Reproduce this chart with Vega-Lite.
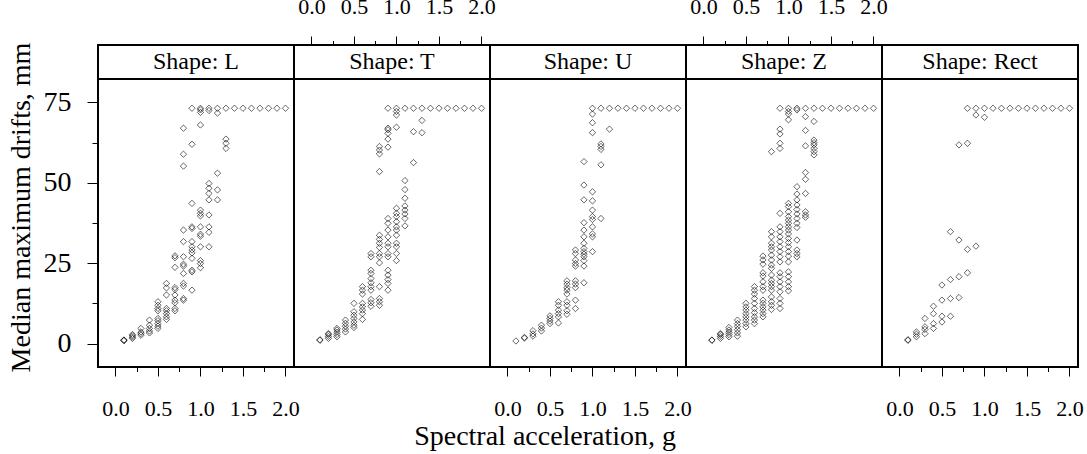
{
  "$schema": "https://vega.github.io/schema/vega-lite/v6.json",
  "padding": {"left": 5, "top": -6, "right": 2, "bottom": 2},
  "background": "white",
  "config": {
    "font": "Liberation Serif",
    "view": {"stroke": "black", "strokeWidth": 2},
    "axis": {"labelFont": "Liberation Serif", "labelColor": "black", "tickColor": "black", "tickWidth": 1, "domain": false, "grid": false, "titleFont": "Liberation Serif", "titleFontWeight": "normal", "titleColor": "black"},
    "title": {"font": "Liberation Serif", "fontWeight": "normal", "color": "black"}
  },
  "title": {"text": "Spectral acceleration, g", "orient": "bottom", "anchor": "middle", "fontSize": 28, "offset": 3},
  "datasets": {
    "drifts": [
      {"shape":"L","sa":0.1,"drift":1.0},{"shape":"L","sa":0.1,"drift":1.1},{"shape":"L","sa":0.1,"drift":0.9},
      {"shape":"L","sa":0.2,"drift":1.6},{"shape":"L","sa":0.2,"drift":2.0},{"shape":"L","sa":0.2,"drift":2.4},{"shape":"L","sa":0.2,"drift":2.8},
      {"shape":"L","sa":0.3,"drift":2.6},{"shape":"L","sa":0.3,"drift":3.1},{"shape":"L","sa":0.3,"drift":3.6},{"shape":"L","sa":0.3,"drift":4.7},
      {"shape":"L","sa":0.4,"drift":3.3},{"shape":"L","sa":0.4,"drift":3.9},{"shape":"L","sa":0.4,"drift":4.7},{"shape":"L","sa":0.4,"drift":5.7},{"shape":"L","sa":0.4,"drift":7.3},
      {"shape":"L","sa":0.5,"drift":4.7},{"shape":"L","sa":0.5,"drift":5.4},{"shape":"L","sa":0.5,"drift":6.2},{"shape":"L","sa":0.5,"drift":7.1},{"shape":"L","sa":0.5,"drift":7.8},{"shape":"L","sa":0.5,"drift":10.2},{"shape":"L","sa":0.5,"drift":10.9},{"shape":"L","sa":0.5,"drift":11.9},{"shape":"L","sa":0.5,"drift":13.0},
      {"shape":"L","sa":0.6,"drift":7.5},{"shape":"L","sa":0.6,"drift":8.3},{"shape":"L","sa":0.6,"drift":9.3},{"shape":"L","sa":0.6,"drift":10.2},{"shape":"L","sa":0.6,"drift":10.9},{"shape":"L","sa":0.6,"drift":15.1},{"shape":"L","sa":0.6,"drift":17.3},{"shape":"L","sa":0.6,"drift":18.7},
      {"shape":"L","sa":0.7,"drift":10.2},{"shape":"L","sa":0.7,"drift":10.9},{"shape":"L","sa":0.7,"drift":12.7},{"shape":"L","sa":0.7,"drift":13.5},{"shape":"L","sa":0.7,"drift":15.1},{"shape":"L","sa":0.7,"drift":16.8},{"shape":"L","sa":0.7,"drift":17.4},{"shape":"L","sa":0.7,"drift":23.7},{"shape":"L","sa":0.7,"drift":26.7},{"shape":"L","sa":0.7,"drift":27.3},
      {"shape":"L","sa":0.8,"drift":13.5},{"shape":"L","sa":0.8,"drift":14.0},{"shape":"L","sa":0.8,"drift":17.9},{"shape":"L","sa":0.8,"drift":18.7},{"shape":"L","sa":0.8,"drift":21.8},{"shape":"L","sa":0.8,"drift":24.1},{"shape":"L","sa":0.8,"drift":24.7},{"shape":"L","sa":0.8,"drift":27.0},{"shape":"L","sa":0.8,"drift":31.7},{"shape":"L","sa":0.8,"drift":35.3},{"shape":"L","sa":0.8,"drift":55.2},{"shape":"L","sa":0.8,"drift":58.9},{"shape":"L","sa":0.8,"drift":67.0},
      {"shape":"L","sa":0.9,"drift":16.6},{"shape":"L","sa":0.9,"drift":22.3},{"shape":"L","sa":0.9,"drift":22.8},{"shape":"L","sa":0.9,"drift":26.5},{"shape":"L","sa":0.9,"drift":28.2},{"shape":"L","sa":0.9,"drift":29.1},{"shape":"L","sa":0.9,"drift":30.1},{"shape":"L","sa":0.9,"drift":31.7},{"shape":"L","sa":0.9,"drift":35.8},{"shape":"L","sa":0.9,"drift":36.3},{"shape":"L","sa":0.9,"drift":43.6},{"shape":"L","sa":0.9,"drift":62.0},{"shape":"L","sa":0.9,"drift":73.2},
      {"shape":"L","sa":1.0,"drift":23.6},{"shape":"L","sa":1.0,"drift":24.9},{"shape":"L","sa":1.0,"drift":25.8},{"shape":"L","sa":1.0,"drift":30.1},{"shape":"L","sa":1.0,"drift":33.4},{"shape":"L","sa":1.0,"drift":34.0},{"shape":"L","sa":1.0,"drift":36.3},{"shape":"L","sa":1.0,"drift":39.7},{"shape":"L","sa":1.0,"drift":40.5},{"shape":"L","sa":1.0,"drift":41.5},{"shape":"L","sa":1.0,"drift":68.0},{"shape":"L","sa":1.0,"drift":71.9},{"shape":"L","sa":1.0,"drift":72.7},{"shape":"L","sa":1.0,"drift":73.2},
      {"shape":"L","sa":1.1,"drift":30.1},{"shape":"L","sa":1.1,"drift":34.6},{"shape":"L","sa":1.1,"drift":36.3},{"shape":"L","sa":1.1,"drift":40.0},{"shape":"L","sa":1.1,"drift":44.7},{"shape":"L","sa":1.1,"drift":46.7},{"shape":"L","sa":1.1,"drift":48.3},{"shape":"L","sa":1.1,"drift":49.8},{"shape":"L","sa":1.1,"drift":72.5},{"shape":"L","sa":1.1,"drift":73.2},
      {"shape":"L","sa":1.2,"drift":44.7},{"shape":"L","sa":1.2,"drift":47.8},{"shape":"L","sa":1.2,"drift":53.0},{"shape":"L","sa":1.2,"drift":71.7},{"shape":"L","sa":1.2,"drift":73.2},
      {"shape":"L","sa":1.3,"drift":60.7},{"shape":"L","sa":1.3,"drift":62.3},{"shape":"L","sa":1.3,"drift":63.6},{"shape":"L","sa":1.3,"drift":73.2},
      {"shape":"L","sa":1.4,"drift":73.2},{"shape":"L","sa":1.5,"drift":73.2},{"shape":"L","sa":1.6,"drift":73.2},{"shape":"L","sa":1.7,"drift":73.2},{"shape":"L","sa":1.8,"drift":73.2},{"shape":"L","sa":1.9,"drift":73.2},{"shape":"L","sa":2.0,"drift":73.2},

      {"shape":"T","sa":0.1,"drift":1.0},{"shape":"T","sa":0.1,"drift":1.2},
      {"shape":"T","sa":0.2,"drift":1.6},{"shape":"T","sa":0.2,"drift":2.2},{"shape":"T","sa":0.2,"drift":2.8},{"shape":"T","sa":0.2,"drift":3.1},
      {"shape":"T","sa":0.3,"drift":2.1},{"shape":"T","sa":0.3,"drift":2.8},{"shape":"T","sa":0.3,"drift":3.5},{"shape":"T","sa":0.3,"drift":4.2},{"shape":"T","sa":0.3,"drift":4.7},
      {"shape":"T","sa":0.4,"drift":3.6},{"shape":"T","sa":0.4,"drift":4.5},{"shape":"T","sa":0.4,"drift":5.4},{"shape":"T","sa":0.4,"drift":6.3},{"shape":"T","sa":0.4,"drift":7.3},
      {"shape":"T","sa":0.5,"drift":5.0},{"shape":"T","sa":0.5,"drift":5.7},{"shape":"T","sa":0.5,"drift":6.7},{"shape":"T","sa":0.5,"drift":7.8},{"shape":"T","sa":0.5,"drift":8.8},{"shape":"T","sa":0.5,"drift":9.9},{"shape":"T","sa":0.5,"drift":12.5},
      {"shape":"T","sa":0.6,"drift":7.5},{"shape":"T","sa":0.6,"drift":9.3},{"shape":"T","sa":0.6,"drift":10.4},{"shape":"T","sa":0.6,"drift":11.4},{"shape":"T","sa":0.6,"drift":12.5},{"shape":"T","sa":0.6,"drift":15.4},{"shape":"T","sa":0.6,"drift":16.6},{"shape":"T","sa":0.6,"drift":17.7},
      {"shape":"T","sa":0.7,"drift":11.6},{"shape":"T","sa":0.7,"drift":12.7},{"shape":"T","sa":0.7,"drift":13.7},{"shape":"T","sa":0.7,"drift":16.6},{"shape":"T","sa":0.7,"drift":17.7},{"shape":"T","sa":0.7,"drift":18.9},{"shape":"T","sa":0.7,"drift":20.2},{"shape":"T","sa":0.7,"drift":21.8},{"shape":"T","sa":0.7,"drift":22.8},{"shape":"T","sa":0.7,"drift":27.0},{"shape":"T","sa":0.7,"drift":28.0},
      {"shape":"T","sa":0.8,"drift":11.9},{"shape":"T","sa":0.8,"drift":13.0},{"shape":"T","sa":0.8,"drift":14.0},{"shape":"T","sa":0.8,"drift":17.7},{"shape":"T","sa":0.8,"drift":25.1},{"shape":"T","sa":0.8,"drift":27.0},{"shape":"T","sa":0.8,"drift":28.0},{"shape":"T","sa":0.8,"drift":29.9},{"shape":"T","sa":0.8,"drift":31.2},{"shape":"T","sa":0.8,"drift":32.4},{"shape":"T","sa":0.8,"drift":33.7},{"shape":"T","sa":0.8,"drift":53.5},{"shape":"T","sa":0.8,"drift":59.0},{"shape":"T","sa":0.8,"drift":60.2},{"shape":"T","sa":0.8,"drift":61.3},
      {"shape":"T","sa":0.9,"drift":16.6},{"shape":"T","sa":0.9,"drift":18.7},{"shape":"T","sa":0.9,"drift":19.9},{"shape":"T","sa":0.9,"drift":21.3},{"shape":"T","sa":0.9,"drift":22.8},{"shape":"T","sa":0.9,"drift":27.0},{"shape":"T","sa":0.9,"drift":28.0},{"shape":"T","sa":0.9,"drift":30.1},{"shape":"T","sa":0.9,"drift":31.2},{"shape":"T","sa":0.9,"drift":33.2},{"shape":"T","sa":0.9,"drift":35.3},{"shape":"T","sa":0.9,"drift":37.4},{"shape":"T","sa":0.9,"drift":38.9},{"shape":"T","sa":0.9,"drift":61.1},{"shape":"T","sa":0.9,"drift":63.6},{"shape":"T","sa":0.9,"drift":65.4},{"shape":"T","sa":0.9,"drift":66.5},{"shape":"T","sa":0.9,"drift":67.0},{"shape":"T","sa":0.9,"drift":73.2},
      {"shape":"T","sa":1.0,"drift":25.8},{"shape":"T","sa":1.0,"drift":28.0},{"shape":"T","sa":1.0,"drift":30.1},{"shape":"T","sa":1.0,"drift":31.2},{"shape":"T","sa":1.0,"drift":33.7},{"shape":"T","sa":1.0,"drift":35.3},{"shape":"T","sa":1.0,"drift":36.3},{"shape":"T","sa":1.0,"drift":37.9},{"shape":"T","sa":1.0,"drift":39.5},{"shape":"T","sa":1.0,"drift":40.5},{"shape":"T","sa":1.0,"drift":42.1},{"shape":"T","sa":1.0,"drift":67.3},{"shape":"T","sa":1.0,"drift":71.1},{"shape":"T","sa":1.0,"drift":72.2},{"shape":"T","sa":1.0,"drift":73.2},
      {"shape":"T","sa":1.1,"drift":36.6},{"shape":"T","sa":1.1,"drift":38.9},{"shape":"T","sa":1.1,"drift":40.3},{"shape":"T","sa":1.1,"drift":41.5},{"shape":"T","sa":1.1,"drift":42.8},{"shape":"T","sa":1.1,"drift":45.2},{"shape":"T","sa":1.1,"drift":47.9},{"shape":"T","sa":1.1,"drift":50.7},{"shape":"T","sa":1.1,"drift":73.2},
      {"shape":"T","sa":1.2,"drift":56.3},{"shape":"T","sa":1.2,"drift":65.9},{"shape":"T","sa":1.2,"drift":73.2},
      {"shape":"T","sa":1.3,"drift":65.6},{"shape":"T","sa":1.3,"drift":69.4},{"shape":"T","sa":1.3,"drift":73.2},
      {"shape":"T","sa":1.4,"drift":73.2},{"shape":"T","sa":1.5,"drift":73.2},{"shape":"T","sa":1.6,"drift":73.2},{"shape":"T","sa":1.7,"drift":73.2},{"shape":"T","sa":1.8,"drift":73.2},{"shape":"T","sa":1.9,"drift":73.2},{"shape":"T","sa":2.0,"drift":73.2},

      {"shape":"U","sa":0.1,"drift":0.8},
      {"shape":"U","sa":0.2,"drift":1.7},{"shape":"U","sa":0.2,"drift":1.9},
      {"shape":"U","sa":0.3,"drift":2.3},{"shape":"U","sa":0.3,"drift":3.0},{"shape":"U","sa":0.3,"drift":4.0},
      {"shape":"U","sa":0.4,"drift":3.9},{"shape":"U","sa":0.4,"drift":4.8},{"shape":"U","sa":0.4,"drift":5.7},
      {"shape":"U","sa":0.5,"drift":6.2},{"shape":"U","sa":0.5,"drift":7.0},{"shape":"U","sa":0.5,"drift":7.8},{"shape":"U","sa":0.5,"drift":8.6},
      {"shape":"U","sa":0.6,"drift":6.4},{"shape":"U","sa":0.6,"drift":8.3},{"shape":"U","sa":0.6,"drift":9.3},{"shape":"U","sa":0.6,"drift":10.4},{"shape":"U","sa":0.6,"drift":11.9},{"shape":"U","sa":0.6,"drift":13.0},
      {"shape":"U","sa":0.7,"drift":9.1},{"shape":"U","sa":0.7,"drift":10.2},{"shape":"U","sa":0.7,"drift":11.9},{"shape":"U","sa":0.7,"drift":13.0},{"shape":"U","sa":0.7,"drift":15.4},{"shape":"U","sa":0.7,"drift":16.6},{"shape":"U","sa":0.7,"drift":17.4},{"shape":"U","sa":0.7,"drift":18.5},{"shape":"U","sa":0.7,"drift":19.5},
      {"shape":"U","sa":0.8,"drift":10.9},{"shape":"U","sa":0.8,"drift":13.5},{"shape":"U","sa":0.8,"drift":17.4},{"shape":"U","sa":0.8,"drift":18.5},{"shape":"U","sa":0.8,"drift":19.5},{"shape":"U","sa":0.8,"drift":24.1},{"shape":"U","sa":0.8,"drift":24.9},{"shape":"U","sa":0.8,"drift":26.0},{"shape":"U","sa":0.8,"drift":28.0},{"shape":"U","sa":0.8,"drift":29.1},
      {"shape":"U","sa":0.9,"drift":18.9},{"shape":"U","sa":0.9,"drift":24.1},{"shape":"U","sa":0.9,"drift":25.8},{"shape":"U","sa":0.9,"drift":27.0},{"shape":"U","sa":0.9,"drift":27.8},{"shape":"U","sa":0.9,"drift":28.6},{"shape":"U","sa":0.9,"drift":29.6},{"shape":"U","sa":0.9,"drift":31.2},{"shape":"U","sa":0.9,"drift":33.2},{"shape":"U","sa":0.9,"drift":35.3},{"shape":"U","sa":0.9,"drift":37.6},{"shape":"U","sa":0.9,"drift":44.7},{"shape":"U","sa":0.9,"drift":49.3},{"shape":"U","sa":0.9,"drift":56.6},
      {"shape":"U","sa":1.0,"drift":28.6},{"shape":"U","sa":1.0,"drift":33.2},{"shape":"U","sa":1.0,"drift":34.1},{"shape":"U","sa":1.0,"drift":36.3},{"shape":"U","sa":1.0,"drift":38.6},{"shape":"U","sa":1.0,"drift":39.5},{"shape":"U","sa":1.0,"drift":41.5},{"shape":"U","sa":1.0,"drift":44.4},{"shape":"U","sa":1.0,"drift":47.2},{"shape":"U","sa":1.0,"drift":65.6},{"shape":"U","sa":1.0,"drift":68.7},{"shape":"U","sa":1.0,"drift":71.4},{"shape":"U","sa":1.0,"drift":73.2},
      {"shape":"U","sa":1.1,"drift":38.9},{"shape":"U","sa":1.1,"drift":55.6},{"shape":"U","sa":1.1,"drift":60.4},{"shape":"U","sa":1.1,"drift":61.3},{"shape":"U","sa":1.1,"drift":62.1},{"shape":"U","sa":1.1,"drift":73.2},
      {"shape":"U","sa":1.2,"drift":66.7},{"shape":"U","sa":1.2,"drift":73.2},
      {"shape":"U","sa":1.3,"drift":73.2},{"shape":"U","sa":1.4,"drift":73.2},{"shape":"U","sa":1.5,"drift":73.2},{"shape":"U","sa":1.6,"drift":73.2},{"shape":"U","sa":1.7,"drift":73.2},{"shape":"U","sa":1.8,"drift":73.2},{"shape":"U","sa":1.9,"drift":73.2},{"shape":"U","sa":2.0,"drift":73.2},

      {"shape":"Z","sa":0.1,"drift":1.0},{"shape":"Z","sa":0.1,"drift":1.1},
      {"shape":"Z","sa":0.2,"drift":1.6},{"shape":"Z","sa":0.2,"drift":2.2},{"shape":"Z","sa":0.2,"drift":2.8},{"shape":"Z","sa":0.2,"drift":3.1},
      {"shape":"Z","sa":0.3,"drift":2.1},{"shape":"Z","sa":0.3,"drift":2.8},{"shape":"Z","sa":0.3,"drift":3.5},{"shape":"Z","sa":0.3,"drift":4.2},{"shape":"Z","sa":0.3,"drift":5.0},
      {"shape":"Z","sa":0.4,"drift":2.3},{"shape":"Z","sa":0.4,"drift":3.3},{"shape":"Z","sa":0.4,"drift":4.3},{"shape":"Z","sa":0.4,"drift":5.3},{"shape":"Z","sa":0.4,"drift":6.2},{"shape":"Z","sa":0.4,"drift":7.3},
      {"shape":"Z","sa":0.5,"drift":5.2},{"shape":"Z","sa":0.5,"drift":6.2},{"shape":"Z","sa":0.5,"drift":7.3},{"shape":"Z","sa":0.5,"drift":8.3},{"shape":"Z","sa":0.5,"drift":9.3},{"shape":"Z","sa":0.5,"drift":10.4},{"shape":"Z","sa":0.5,"drift":11.4},{"shape":"Z","sa":0.5,"drift":12.5},
      {"shape":"Z","sa":0.6,"drift":6.2},{"shape":"Z","sa":0.6,"drift":7.3},{"shape":"Z","sa":0.6,"drift":8.3},{"shape":"Z","sa":0.6,"drift":9.6},{"shape":"Z","sa":0.6,"drift":10.9},{"shape":"Z","sa":0.6,"drift":12.5},{"shape":"Z","sa":0.6,"drift":14.0},{"shape":"Z","sa":0.6,"drift":15.4},{"shape":"Z","sa":0.6,"drift":16.6},{"shape":"Z","sa":0.6,"drift":17.7},
      {"shape":"Z","sa":0.7,"drift":8.3},{"shape":"Z","sa":0.7,"drift":9.3},{"shape":"Z","sa":0.7,"drift":10.4},{"shape":"Z","sa":0.7,"drift":11.4},{"shape":"Z","sa":0.7,"drift":12.5},{"shape":"Z","sa":0.7,"drift":13.5},{"shape":"Z","sa":0.7,"drift":16.6},{"shape":"Z","sa":0.7,"drift":17.7},{"shape":"Z","sa":0.7,"drift":19.2},{"shape":"Z","sa":0.7,"drift":21.0},{"shape":"Z","sa":0.7,"drift":22.0},{"shape":"Z","sa":0.7,"drift":24.7},{"shape":"Z","sa":0.7,"drift":26.0},{"shape":"Z","sa":0.7,"drift":27.2},
      {"shape":"Z","sa":0.8,"drift":10.6},{"shape":"Z","sa":0.8,"drift":11.9},{"shape":"Z","sa":0.8,"drift":13.0},{"shape":"Z","sa":0.8,"drift":14.5},{"shape":"Z","sa":0.8,"drift":16.6},{"shape":"Z","sa":0.8,"drift":17.7},{"shape":"Z","sa":0.8,"drift":18.7},{"shape":"Z","sa":0.8,"drift":19.7},{"shape":"Z","sa":0.8,"drift":21.3},{"shape":"Z","sa":0.8,"drift":23.4},{"shape":"Z","sa":0.8,"drift":24.4},{"shape":"Z","sa":0.8,"drift":26.0},{"shape":"Z","sa":0.8,"drift":27.5},{"shape":"Z","sa":0.8,"drift":29.1},{"shape":"Z","sa":0.8,"drift":30.1},{"shape":"Z","sa":0.8,"drift":31.2},{"shape":"Z","sa":0.8,"drift":33.2},{"shape":"Z","sa":0.8,"drift":34.8},{"shape":"Z","sa":0.8,"drift":59.7},
      {"shape":"Z","sa":0.9,"drift":10.9},{"shape":"Z","sa":0.9,"drift":12.5},{"shape":"Z","sa":0.9,"drift":14.0},{"shape":"Z","sa":0.9,"drift":16.1},{"shape":"Z","sa":0.9,"drift":17.7},{"shape":"Z","sa":0.9,"drift":19.2},{"shape":"Z","sa":0.9,"drift":20.8},{"shape":"Z","sa":0.9,"drift":22.0},{"shape":"Z","sa":0.9,"drift":25.4},{"shape":"Z","sa":0.9,"drift":27.0},{"shape":"Z","sa":0.9,"drift":28.6},{"shape":"Z","sa":0.9,"drift":30.1},{"shape":"Z","sa":0.9,"drift":31.7},{"shape":"Z","sa":0.9,"drift":33.2},{"shape":"Z","sa":0.9,"drift":34.8},{"shape":"Z","sa":0.9,"drift":36.3},{"shape":"Z","sa":0.9,"drift":40.5},{"shape":"Z","sa":0.9,"drift":60.7},{"shape":"Z","sa":0.9,"drift":62.3},{"shape":"Z","sa":0.9,"drift":65.2},{"shape":"Z","sa":0.9,"drift":66.7},{"shape":"Z","sa":0.9,"drift":73.2},
      {"shape":"Z","sa":1.0,"drift":16.4},{"shape":"Z","sa":1.0,"drift":17.7},{"shape":"Z","sa":1.0,"drift":19.2},{"shape":"Z","sa":1.0,"drift":20.8},{"shape":"Z","sa":1.0,"drift":22.3},{"shape":"Z","sa":1.0,"drift":25.4},{"shape":"Z","sa":1.0,"drift":27.2},{"shape":"Z","sa":1.0,"drift":28.6},{"shape":"Z","sa":1.0,"drift":30.1},{"shape":"Z","sa":1.0,"drift":31.4},{"shape":"Z","sa":1.0,"drift":32.7},{"shape":"Z","sa":1.0,"drift":34.1},{"shape":"Z","sa":1.0,"drift":35.3},{"shape":"Z","sa":1.0,"drift":36.3},{"shape":"Z","sa":1.0,"drift":37.4},{"shape":"Z","sa":1.0,"drift":38.4},{"shape":"Z","sa":1.0,"drift":39.5},{"shape":"Z","sa":1.0,"drift":41.0},{"shape":"Z","sa":1.0,"drift":42.6},{"shape":"Z","sa":1.0,"drift":43.6},{"shape":"Z","sa":1.0,"drift":69.6},{"shape":"Z","sa":1.0,"drift":71.4},{"shape":"Z","sa":1.0,"drift":72.2},{"shape":"Z","sa":1.0,"drift":73.2},
      {"shape":"Z","sa":1.1,"drift":27.0},{"shape":"Z","sa":1.1,"drift":28.0},{"shape":"Z","sa":1.1,"drift":29.1},{"shape":"Z","sa":1.1,"drift":32.2},{"shape":"Z","sa":1.1,"drift":36.1},{"shape":"Z","sa":1.1,"drift":37.4},{"shape":"Z","sa":1.1,"drift":38.9},{"shape":"Z","sa":1.1,"drift":40.3},{"shape":"Z","sa":1.1,"drift":41.7},{"shape":"Z","sa":1.1,"drift":43.1},{"shape":"Z","sa":1.1,"drift":44.7},{"shape":"Z","sa":1.1,"drift":46.5},{"shape":"Z","sa":1.1,"drift":48.8},{"shape":"Z","sa":1.1,"drift":72.7},{"shape":"Z","sa":1.1,"drift":73.2},
      {"shape":"Z","sa":1.2,"drift":39.3},{"shape":"Z","sa":1.2,"drift":40.0},{"shape":"Z","sa":1.2,"drift":41.0},{"shape":"Z","sa":1.2,"drift":46.7},{"shape":"Z","sa":1.2,"drift":51.1},{"shape":"Z","sa":1.2,"drift":53.2},{"shape":"Z","sa":1.2,"drift":61.5},{"shape":"Z","sa":1.2,"drift":66.3},{"shape":"Z","sa":1.2,"drift":70.6},{"shape":"Z","sa":1.2,"drift":73.2},
      {"shape":"Z","sa":1.3,"drift":58.7},{"shape":"Z","sa":1.3,"drift":59.7},{"shape":"Z","sa":1.3,"drift":60.7},{"shape":"Z","sa":1.3,"drift":61.8},{"shape":"Z","sa":1.3,"drift":62.5},{"shape":"Z","sa":1.3,"drift":63.3},{"shape":"Z","sa":1.3,"drift":69.1},{"shape":"Z","sa":1.3,"drift":73.2},
      {"shape":"Z","sa":1.4,"drift":73.2},{"shape":"Z","sa":1.5,"drift":73.2},{"shape":"Z","sa":1.6,"drift":73.2},{"shape":"Z","sa":1.7,"drift":73.2},{"shape":"Z","sa":1.8,"drift":73.2},{"shape":"Z","sa":1.9,"drift":73.2},{"shape":"Z","sa":2.0,"drift":73.2},

      {"shape":"Rect","sa":0.1,"drift":1.0},{"shape":"Rect","sa":0.1,"drift":1.2},
      {"shape":"Rect","sa":0.2,"drift":2.1},{"shape":"Rect","sa":0.2,"drift":2.9},{"shape":"Rect","sa":0.2,"drift":3.6},
      {"shape":"Rect","sa":0.3,"drift":3.1},{"shape":"Rect","sa":0.3,"drift":4.4},{"shape":"Rect","sa":0.3,"drift":5.2},{"shape":"Rect","sa":0.3,"drift":7.8},
      {"shape":"Rect","sa":0.4,"drift":4.7},{"shape":"Rect","sa":0.4,"drift":6.2},{"shape":"Rect","sa":0.4,"drift":9.3},{"shape":"Rect","sa":0.4,"drift":11.6},
      {"shape":"Rect","sa":0.5,"drift":6.7},{"shape":"Rect","sa":0.5,"drift":8.5},{"shape":"Rect","sa":0.5,"drift":13.5},{"shape":"Rect","sa":0.5,"drift":18.2},
      {"shape":"Rect","sa":0.6,"drift":8.5},{"shape":"Rect","sa":0.6,"drift":14.0},{"shape":"Rect","sa":0.6,"drift":19.9},{"shape":"Rect","sa":0.6,"drift":34.8},
      {"shape":"Rect","sa":0.7,"drift":14.3},{"shape":"Rect","sa":0.7,"drift":20.8},{"shape":"Rect","sa":0.7,"drift":32.2},{"shape":"Rect","sa":0.7,"drift":61.8},
      {"shape":"Rect","sa":0.8,"drift":22.0},{"shape":"Rect","sa":0.8,"drift":29.3},{"shape":"Rect","sa":0.8,"drift":62.3},{"shape":"Rect","sa":0.8,"drift":73.2},
      {"shape":"Rect","sa":0.9,"drift":30.3},{"shape":"Rect","sa":0.9,"drift":71.1},{"shape":"Rect","sa":0.9,"drift":73.2},
      {"shape":"Rect","sa":1.0,"drift":70.4},{"shape":"Rect","sa":1.0,"drift":73.2},
      {"shape":"Rect","sa":1.1,"drift":73.2},{"shape":"Rect","sa":1.2,"drift":73.2},{"shape":"Rect","sa":1.3,"drift":73.2},{"shape":"Rect","sa":1.4,"drift":73.2},{"shape":"Rect","sa":1.5,"drift":73.2},{"shape":"Rect","sa":1.6,"drift":73.2},{"shape":"Rect","sa":1.7,"drift":73.2},{"shape":"Rect","sa":1.8,"drift":73.2},{"shape":"Rect","sa":1.9,"drift":73.2},{"shape":"Rect","sa":2.0,"drift":73.2}
    ]
  },
  "bounds": "flush",
  "spacing": 0,
  "columns": 5,
  "concat": [
    {"width": 196, "height": 34, "data": {"values": [{"label": "Shape: L"}]}, "layer": [
      {"mark": {"type": "rect", "fillOpacity": 0, "stroke": "black", "strokeWidth": 2}, "encoding": {}},
      {"mark": {"type": "text", "fontSize": 24, "font": "Liberation Serif", "color": "black"}, "encoding": {"text": {"field": "label"}}}]},
    {"width": 196, "height": 34, "data": {"values": [{"label": "Shape: T"}]}, "layer": [
      {"mark": {"type": "rect", "fillOpacity": 0, "stroke": "black", "strokeWidth": 2}, "encoding": {}},
      {"mark": {"type": "text", "fontSize": 24, "font": "Liberation Serif", "color": "black"}, "encoding": {"text": {"field": "label"}}}]},
    {"width": 196, "height": 34, "data": {"values": [{"label": "Shape: U"}]}, "layer": [
      {"mark": {"type": "rect", "fillOpacity": 0, "stroke": "black", "strokeWidth": 2}, "encoding": {}},
      {"mark": {"type": "text", "fontSize": 24, "font": "Liberation Serif", "color": "black"}, "encoding": {"text": {"field": "label"}}}]},
    {"width": 196, "height": 34, "data": {"values": [{"label": "Shape: Z"}]}, "layer": [
      {"mark": {"type": "rect", "fillOpacity": 0, "stroke": "black", "strokeWidth": 2}, "encoding": {}},
      {"mark": {"type": "text", "fontSize": 24, "font": "Liberation Serif", "color": "black"}, "encoding": {"text": {"field": "label"}}}]},
    {"width": 196, "height": 34, "data": {"values": [{"label": "Shape: Rect"}]}, "layer": [
      {"mark": {"type": "rect", "fillOpacity": 0, "stroke": "black", "strokeWidth": 2}, "encoding": {}},
      {"mark": {"type": "text", "fontSize": 24, "font": "Liberation Serif", "color": "black"}, "encoding": {"text": {"field": "label"}}}]},
    {"width": 196, "height": 288, "data": {"name": "drifts"}, "transform": [{"filter": "datum.shape === 'L'"}],
     "mark": {"type": "point", "shape": "diamond", "size": 40, "filled": false, "stroke": "black", "strokeWidth": 0.6, "opacity": 1},
     "encoding": {
       "x": {"field": "sa", "type": "quantitative", "scale": {"domain": [-0.205, 2.1], "nice": false, "zero": false},
             "axis": {"orient": "bottom", "title": null, "values": [0,0.25,0.5,0.75,1,1.25,1.5,1.75,2], "tickSize": {"condition": {"test": "datum.value % 0.5 === 0", "value": 9}, "value": 4.5}, "labelExpr": "datum.value % 0.5 === 0 ? format(datum.value, '.1f') : ''", "labelFontSize": 22, "labelPadding": 22, "labelOverlap": false, "labelBound": false, "labelFlush": false}},
       "y": {"field": "drift", "type": "quantitative", "scale": {"domain": [-7.3, 82.3], "nice": false, "zero": false},
             "axis": {"orient": "left", "title": "Median maximum drifts, mm", "titleFontSize": 28, "titlePadding": 8, "titleY": 128, "values": [0,12.5,25,37.5,50,62.5,75], "tickSize": {"condition": {"test": "datum.value % 25 === 0", "value": 11}, "value": 6}, "labelExpr": "datum.value % 25 === 0 ? format(datum.value, 'd') : ''", "labelFontSize": 28, "labelPadding": 16, "labelOverlap": false, "labelBound": false, "labelFlush": false}}
     }},
    {"width": 196, "height": 288, "data": {"name": "drifts"}, "transform": [{"filter": "datum.shape === 'T'"}],
     "mark": {"type": "point", "shape": "diamond", "size": 40, "filled": false, "stroke": "black", "strokeWidth": 0.6, "opacity": 1},
     "encoding": {
       "x": {"field": "sa", "type": "quantitative", "scale": {"domain": [-0.205, 2.1], "nice": false, "zero": false},
             "axis": {"orient": "top", "offset": 34, "title": null, "values": [0,0.25,0.5,0.75,1,1.25,1.5,1.75,2], "tickSize": {"condition": {"test": "datum.value % 0.5 === 0", "value": 9}, "value": 4.5}, "labelExpr": "datum.value % 0.5 === 0 ? format(datum.value, '.1f') : ''", "labelFontSize": 22, "labelPadding": 18, "labelOverlap": false, "labelBound": false, "labelFlush": false}},
       "y": {"field": "drift", "type": "quantitative", "scale": {"domain": [-7.3, 82.3], "nice": false, "zero": false}, "axis": null}
     }},
    {"width": 196, "height": 288, "data": {"name": "drifts"}, "transform": [{"filter": "datum.shape === 'U'"}],
     "mark": {"type": "point", "shape": "diamond", "size": 40, "filled": false, "stroke": "black", "strokeWidth": 0.6, "opacity": 1},
     "encoding": {
       "x": {"field": "sa", "type": "quantitative", "scale": {"domain": [-0.205, 2.1], "nice": false, "zero": false},
             "axis": {"orient": "bottom", "title": null, "values": [0,0.25,0.5,0.75,1,1.25,1.5,1.75,2], "tickSize": {"condition": {"test": "datum.value % 0.5 === 0", "value": 9}, "value": 4.5}, "labelExpr": "datum.value % 0.5 === 0 ? format(datum.value, '.1f') : ''", "labelFontSize": 22, "labelPadding": 22, "labelOverlap": false, "labelBound": false, "labelFlush": false}},
       "y": {"field": "drift", "type": "quantitative", "scale": {"domain": [-7.3, 82.3], "nice": false, "zero": false}, "axis": null}
     }},
    {"width": 196, "height": 288, "data": {"name": "drifts"}, "transform": [{"filter": "datum.shape === 'Z'"}],
     "mark": {"type": "point", "shape": "diamond", "size": 40, "filled": false, "stroke": "black", "strokeWidth": 0.6, "opacity": 1},
     "encoding": {
       "x": {"field": "sa", "type": "quantitative", "scale": {"domain": [-0.205, 2.1], "nice": false, "zero": false},
             "axis": {"orient": "top", "offset": 34, "title": null, "values": [0,0.25,0.5,0.75,1,1.25,1.5,1.75,2], "tickSize": {"condition": {"test": "datum.value % 0.5 === 0", "value": 9}, "value": 4.5}, "labelExpr": "datum.value % 0.5 === 0 ? format(datum.value, '.1f') : ''", "labelFontSize": 22, "labelPadding": 18, "labelOverlap": false, "labelBound": false, "labelFlush": false}},
       "y": {"field": "drift", "type": "quantitative", "scale": {"domain": [-7.3, 82.3], "nice": false, "zero": false}, "axis": null}
     }},
    {"width": 196, "height": 288, "data": {"name": "drifts"}, "transform": [{"filter": "datum.shape === 'Rect'"}],
     "mark": {"type": "point", "shape": "diamond", "size": 40, "filled": false, "stroke": "black", "strokeWidth": 0.6, "opacity": 1},
     "encoding": {
       "x": {"field": "sa", "type": "quantitative", "scale": {"domain": [-0.205, 2.1], "nice": false, "zero": false},
             "axis": {"orient": "bottom", "title": null, "values": [0,0.25,0.5,0.75,1,1.25,1.5,1.75,2], "tickSize": {"condition": {"test": "datum.value % 0.5 === 0", "value": 9}, "value": 4.5}, "labelExpr": "datum.value % 0.5 === 0 ? format(datum.value, '.1f') : ''", "labelFontSize": 22, "labelPadding": 22, "labelOverlap": false, "labelBound": false, "labelFlush": false}},
       "y": {"field": "drift", "type": "quantitative", "scale": {"domain": [-7.3, 82.3], "nice": false, "zero": false}, "axis": null}
     }}
  ]
}
